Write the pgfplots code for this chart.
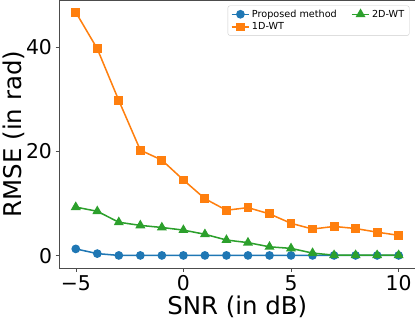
\documentclass[border=0pt]{standalone}
\usepackage{fontspec}
\setmainfont{DejaVu Sans}
\usepackage{pgfplots}
\pgfplotsset{compat=1.18}

\definecolor{tabblue}{HTML}{1F77B4}
\definecolor{taborange}{HTML}{FF7F0E}
\definecolor{tabgreen}{HTML}{2CA02C}

\begin{document}
\begin{tikzpicture}
\begin{axis}[
  scale only axis,
  width=349pt, height=263pt,
  xmin=-5.75, xmax=10.75,
  ymin=-2.33, ymax=48.9,
  xtick={-5,0,5,10},
  xticklabels={−5,0,5,10},
  ytick={0,20,40},
  /pgf/number format/assume math mode=true,
  tick label style={font=\fontsize{20}{24}\selectfont},
  label style={font=\fontsize{24}{28}\selectfont},
  xlabel={SNR (in dB)},
  ylabel={RMSE (in rad)},
  xlabel style={yshift=2pt},
  ylabel style={yshift=-6pt},
  tick align=outside,
  tick pos=left,
  major tick length=4pt,
  axis line style={black!70},
  every tick/.style={black!70},
  legend columns=2,
  transpose legend,
  legend cell align=left,
  legend style={at={(0.985,0.98)}, anchor=north east,
    font=\fontsize{9.5}{11}\selectfont, draw=black!20, rounded corners=2pt,
    /tikz/every even column/.append style={column sep=12pt}},
  every axis plot/.append style={line width=1.5pt},
]
\addplot[color=tabblue, mark=*, mark size=3.5pt] coordinates {
  (-5,1.3) (-4,0.4) (-3,0.05) (-2,0.05) (-1,0.05) (0,0.05) (1,0.05) (2,0.05)
  (3,0.05) (4,0.05) (5,0.05) (6,0.05) (7,0.05) (8,0.05) (9,0.05) (10,0.05)
};
\addlegendentry{Proposed method}
\addplot[color=taborange, mark=square*, mark size=3.6pt] coordinates {
  (-5,46.6) (-4,39.6) (-3,29.7) (-2,20.2) (-1,18.3) (0,14.5) (1,10.9) (2,8.7)
  (3,9.2) (4,8.0) (5,6.2) (6,5.1) (7,5.6) (8,5.2) (9,4.5) (10,3.9)
};
\addlegendentry{1D-WT}
\addplot[color=tabgreen, mark=triangle*, mark size=4.2pt] coordinates {
  (-5,9.3) (-4,8.5) (-3,6.4) (-2,5.8) (-1,5.4) (0,4.9) (1,4.1) (2,3.0)
  (3,2.5) (4,1.7) (5,1.4) (6,0.5) (7,0.1) (8,0.1) (9,0.1) (10,0.1)
};
\addlegendentry{2D-WT}
\end{axis}
\end{tikzpicture}
\end{document}
